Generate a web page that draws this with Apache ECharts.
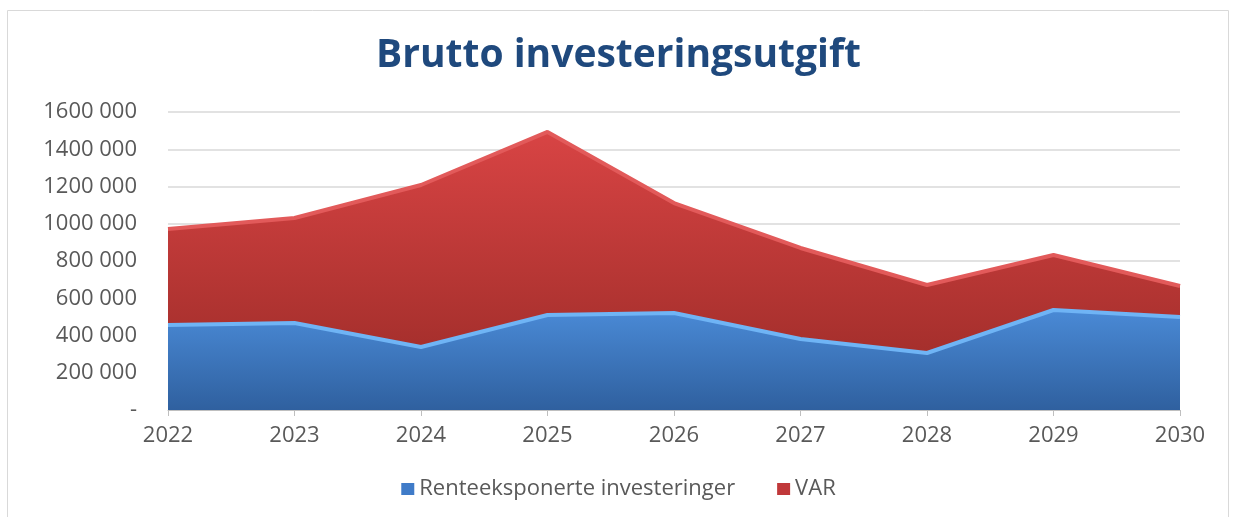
<!DOCTYPE html>
<html>
<head>
<meta charset="utf-8">
<script src="https://cdn.jsdelivr.net/npm/echarts@6/dist/echarts.min.js"></script>
<style>
  html, body { margin: 0; padding: 0; background: #fff; }
  #graph { width: 1237px; height: 517px; }
</style>
</head>
<body>
<div id="graph"></div>
<script>
var years = ['2022', '2023', '2024', '2025', '2026', '2027', '2028', '2029', '2030'];
var rente = [456000, 467000, 338000, 510000, 521000, 381000, 306000, 537000, 499000];
var varData = [516000, 564000, 870000, 983000, 590000, 489000, 365000, 295000, 167000];
var yTicks = [0, 200000, 400000, 600000, 800000, 1000000, 1200000, 1400000, 1600000];

var dom = document.getElementById('graph');
var myChart = echarts.init(dom);

function fmt(v) {
  if (v === 0) return '-';
  var s = String(v);
  return s.slice(0, s.length - 3) + ' ' + s.slice(s.length - 3);
}

var option = {
  animation: false,
  title: {
    text: 'Brutto investeringsutgift',
    left: 'center',
    top: 31,
    textStyle: {
      fontFamily: 'Open Sans',
      fontWeight: 'bold',
      fontSize: 39,
      color: '#1F497D'
    }
  },
  grid: { left: 168, right: 57, top: 112, bottom: 107 },
  legend: {
    bottom: 12,
    left: 'center',
    itemWidth: 13,
    itemHeight: 12,
    itemGap: 42,
    icon: 'rect',
    textStyle: { fontFamily: 'Open Sans', fontSize: 22, color: '#595959' },
    data: ['Renteeksponerte investeringer', 'VAR']
  },
  xAxis: {
    type: 'category',
    boundaryGap: false,
    data: years,
    axisLine: { lineStyle: { color: '#BFBFBF', width: 1 } },
    axisTick: { show: true, alignWithLabel: true, length: 6, lineStyle: { color: '#BFBFBF' } },
    axisLabel: { fontFamily: 'Open Sans', fontSize: 22, color: '#595959', margin: 15 }
  },
  yAxis: {
    type: 'value',
    min: yTicks[0],
    max: yTicks[yTicks.length - 1],
    interval: 200000,
    axisLine: { show: false },
    axisTick: { show: false },
    splitLine: { lineStyle: { color: '#D9D9D9', width: 1.5 } },
    axisLabel: {
      fontFamily: 'Open Sans', fontSize: 22, color: '#595959', margin: 31,
      formatter: fmt
    }
  },
  graphic: [{
    type: 'rect',
    shape: { x: 7.5, y: 10.5, width: 1221, height: 520 },
    style: { fill: 'none', stroke: '#D9D9D9', lineWidth: 1 },
    silent: true
  }],
  series: [{
    name: 'Renteeksponerte investeringer',
    type: 'line',
    stack: 'total',
    symbol: 'none',
    itemStyle: { color: '#3F7BC8' },
    lineStyle: { color: '#6FB4F5', width: 4 },
    areaStyle: {
      opacity: 1,
      color: new echarts.graphic.LinearGradient(0, 0, 0, 1, [
        { offset: 0, color: '#4A8AD6' },
        { offset: 1, color: '#2F609F' }
      ])
    },
    data: rente
  }, {
    name: 'VAR',
    type: 'line',
    stack: 'total',
    symbol: 'none',
    itemStyle: { color: '#C0383A' },
    lineStyle: { color: '#E25A5A', width: 4 },
    areaStyle: {
      opacity: 1,
      color: new echarts.graphic.LinearGradient(0, 0, 0, 1, [
        { offset: 0, color: '#D84444' },
        { offset: 1, color: '#A52F2C' }
      ])
    },
    data: varData
  }]
};

myChart.setOption(option, true);
</script>
</body>
</html>
